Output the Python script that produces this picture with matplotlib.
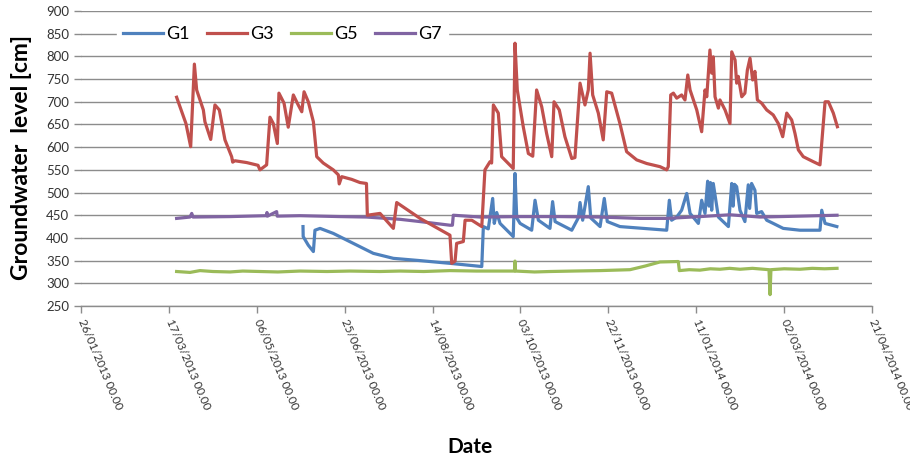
import matplotlib
matplotlib.use("Agg")
import matplotlib.pyplot as plt
import numpy as np
import pandas as pd

plt.rcParams['font.family'] = ['Lato', 'DejaVu Sans']

START = pd.Timestamp('2013-01-26')

# ---- data: (days since 26/01/2013, groundwater level in cm) ----
g3_days = [54.4, 59.7, 62.4, 64.5, 65.8, 69.6, 70.5, 73.8, 76.2, 78.7, 81.9, 85.7, 86.3, 87.6,
           94.3, 100.7, 101.8, 105.6, 107.5, 109.4, 111.7, 112.6, 115.5, 117.9, 120.8, 123.3,
           125.6, 126.9, 129.3, 132.2, 134.1, 137.8, 143.5, 146.4, 146.9, 148.3, 154.0, 158.7,
           162.4, 162.9, 170.1, 177.7, 179.6, 192.9, 209.9, 210.9, 212.8, 213.7, 217.5, 218.5,
           222.3, 228.0, 229.8, 232.7, 233.6, 234.6, 237.4, 239.3, 245.9, 246.9, 248.2, 251.6,
           254.5, 257.0, 259.2, 262.1, 264.9, 267.8, 269.1, 272.1, 275.3, 279.2, 281.0, 283.9,
           286.7, 288.6, 289.6, 291.1, 294.3, 297.1, 299.1, 301.9, 306.6, 310.4, 316.1, 321.8,
           329.4, 333.2, 334.1, 335.5, 337.0, 338.9, 341.7, 343.6, 345.2, 346.5, 350.3, 353.1,
           355.0, 356.0, 356.9, 357.8, 358.8, 359.7, 360.7, 362.6, 363.5, 366.4, 369.2, 370.2,
           372.1, 373.0, 373.9, 375.9, 377.7, 379.1, 380.6, 382.1, 383.4, 384.8, 387.2, 390.1,
           393.8, 396.7, 399.2, 401.5, 404.3, 406.2, 408.1, 410.9, 416.6, 420.4, 422.0, 423.3,
           425.2, 428.0, 430.3]
g3_vals = [710, 652, 601, 783, 726, 682, 656, 617, 693, 682, 616, 579, 567, 570,
           566, 560, 550, 561, 666, 652, 608, 719, 697, 644, 715, 695,
           678, 722, 700, 656, 579, 565, 550, 539, 519, 535, 529, 522,
           520, 450, 454, 421, 478, 443, 406, 344, 349, 388, 392, 439,
           439, 425, 550, 568, 565, 693, 675, 579, 553, 829, 726, 645,
           586, 580, 726, 689, 630, 579, 700, 682, 623, 575, 577, 741,
           693, 726, 807, 715, 675, 616, 722, 719, 652, 590, 572, 564,
           557, 550, 557, 715, 719, 708, 715, 704, 759, 726, 682, 634,
           726, 711, 763, 814, 763, 799, 711, 686, 704, 682, 652, 810,
           792, 741, 756, 711, 719, 770, 796, 748, 767, 704, 697, 682,
           671, 652, 623, 675, 660, 630, 594, 579, 568, 561, 638, 700,
           700, 675, 645]

g1_days = [126.3, 126.4, 129.3, 132.2, 133.1, 136.0, 143.5, 154.9, 166.3, 177.7, 192.9, 209.9,
           228.0, 228.9, 231.7, 234.2, 235.1, 236.5, 238.4, 245.9, 246.9, 247.9, 249.8, 256.4,
           258.3, 260.2, 266.8, 268.3, 269.7, 279.2, 282.9, 283.9, 285.4, 288.6, 290.0, 295.3,
           297.7, 299.4, 306.6, 333.2, 334.7, 336.0, 338.9, 341.7, 344.6, 346.5, 351.2, 353.1,
           355.0, 356.5, 357.3, 358.1, 358.8, 359.7, 362.6, 368.3, 370.2, 371.0, 371.8, 373.0,
           374.9, 377.7, 379.6, 380.4, 381.5, 383.4, 384.4, 387.2, 390.1, 393.8, 399.5, 409.0,
           420.4, 421.4, 423.3, 430.0]
g1_vals = [425, 403, 384, 370, 417, 421, 410, 388, 366, 355, 350, 344,
           337, 425, 420, 487, 432, 456, 432, 403, 542, 444, 432, 417,
           483, 439, 421, 480, 436, 417, 444, 478, 439, 513, 444, 425,
           487, 436, 425, 417, 483, 439, 446, 461, 498, 454, 432, 483,
           454, 525, 470, 522, 461, 520, 446, 425, 520, 470, 518, 513,
           461, 436, 517, 465, 520, 505, 454, 458, 439, 432, 421, 417,
           417, 461, 432, 425]

g5_days = [54.4, 62.0, 67.7, 75.0, 84.8, 92.0, 101.8, 112.0, 124.6, 140.0, 153.0, 170.0,
           181.5, 195.0, 209.9, 225.0, 238.4, 246.6, 246.9, 247.2, 258.0, 266.8, 280.0, 295.3,
           312.3, 320.9, 329.4, 339.8, 340.4, 346.0, 352.1, 358.0, 363.5, 369.0, 374.9, 382.0,
           391.4, 392.0, 392.5, 400.0, 409.0, 416.0, 423.0, 430.1]
g5_vals = [326, 324, 328, 326, 325, 327, 326, 325, 327, 326, 327, 326,
           327, 326, 328, 327, 327, 327, 349, 327, 325, 326, 327, 328,
           330, 338, 347, 348, 328, 330, 329, 332, 331, 333, 331, 333,
           330, 275, 330, 332, 331, 333, 332, 333]

g7_days = [54.4, 62.0, 63.0, 63.7, 84.8, 105.6, 105.8, 106.1, 111.3, 111.6, 124.6, 147.4,
           162.4, 181.5, 192.9, 209.9, 211.3, 211.8, 227.0, 249.7, 272.5, 295.3, 318.0, 333.2,
           352.1, 369.2, 386.3, 409.0, 430.1]
g7_vals = [443, 446, 454, 446, 447, 449, 456, 448, 458, 448, 449, 447,
           446, 441, 436, 428, 428, 450, 446, 447, 447, 446, 443, 443,
           447, 451, 446, 448, 450]

series_names = ['G1', 'G3', 'G5', 'G7']
series_colors = ['#4F81BD', '#C0504D', '#9BBB59', '#8064A2']

tick_start = '2013-01-26'
tick_step_days = 50
n_ticks = 10

# ---- figure ----
fig = plt.figure(figsize=(9.1, 4.62), dpi=100)
ax = fig.add_axes([81/910, 1-306/462, (872-81)/910, (306-11)/462])


def to_dates(days):
    return [START + pd.Timedelta(days=d) for d in days]

series = [(g1_days, g1_vals), (g3_days, g3_vals), (g5_days, g5_vals), (g7_days, g7_vals)]
lines = {}
for i in [2, 0, 3, 1]:
    d, v = series[i]
    ln, = ax.plot(to_dates(d), v, color=series_colors[i], lw=2.3, label=series_names[i],
                  solid_joinstyle='round')
    lines[i] = ln

ticks = [pd.Timestamp(tick_start) + pd.Timedelta(days=tick_step_days*k) for k in range(n_ticks)]
ax.set_xlim(ticks[0], ticks[-1])
ax.set_ylim(250, 900)
ax.set_yticks(np.arange(250, 901, 50))
ax.set_xticks(ticks)
ax.set_xticklabels([t.strftime('%d/%m/%Y %H.%M') for t in ticks], rotation=-67,
                   ha='left', va='center', rotation_mode='anchor', fontsize=8.4, color='#333333')
ax.tick_params(axis='y', labelsize=9.5, labelcolor='#333333', color='#8c8c8c', length=5, width=1)
ax.tick_params(axis='x', color='#8c8c8c', length=5, width=1, pad=5)

ax.grid(axis='y', color='#8c8c8c', lw=1)
ax.set_axisbelow(True)
for s in ['top', 'right', 'left']:
    ax.spines[s].set_visible(False)
ax.spines['bottom'].set_color('#8c8c8c')
ax.spines['bottom'].set_linewidth(1)

leg = ax.legend(handles=[lines[0], lines[1], lines[2], lines[3]], ncol=4, loc='upper left',
                bbox_to_anchor=(0.034, 1.0), frameon=True, fontsize=13, handlelength=2.2,
                handletextpad=0.15, columnspacing=1.0, borderpad=0.35)
leg.get_frame().set_facecolor('white')
leg.get_frame().set_edgecolor('white')
leg.get_frame().set_alpha(1)

fig.text(22/910, 1-157/462, 'Groundwater  level [cm]', rotation=90, ha='center', va='center',
         fontsize=16.5, fontweight='bold')
fig.text(470/910, 1-447/462, 'Date', ha='center', va='center', fontsize=15, fontweight='bold')

fig.savefig('out.png', dpi=100)
